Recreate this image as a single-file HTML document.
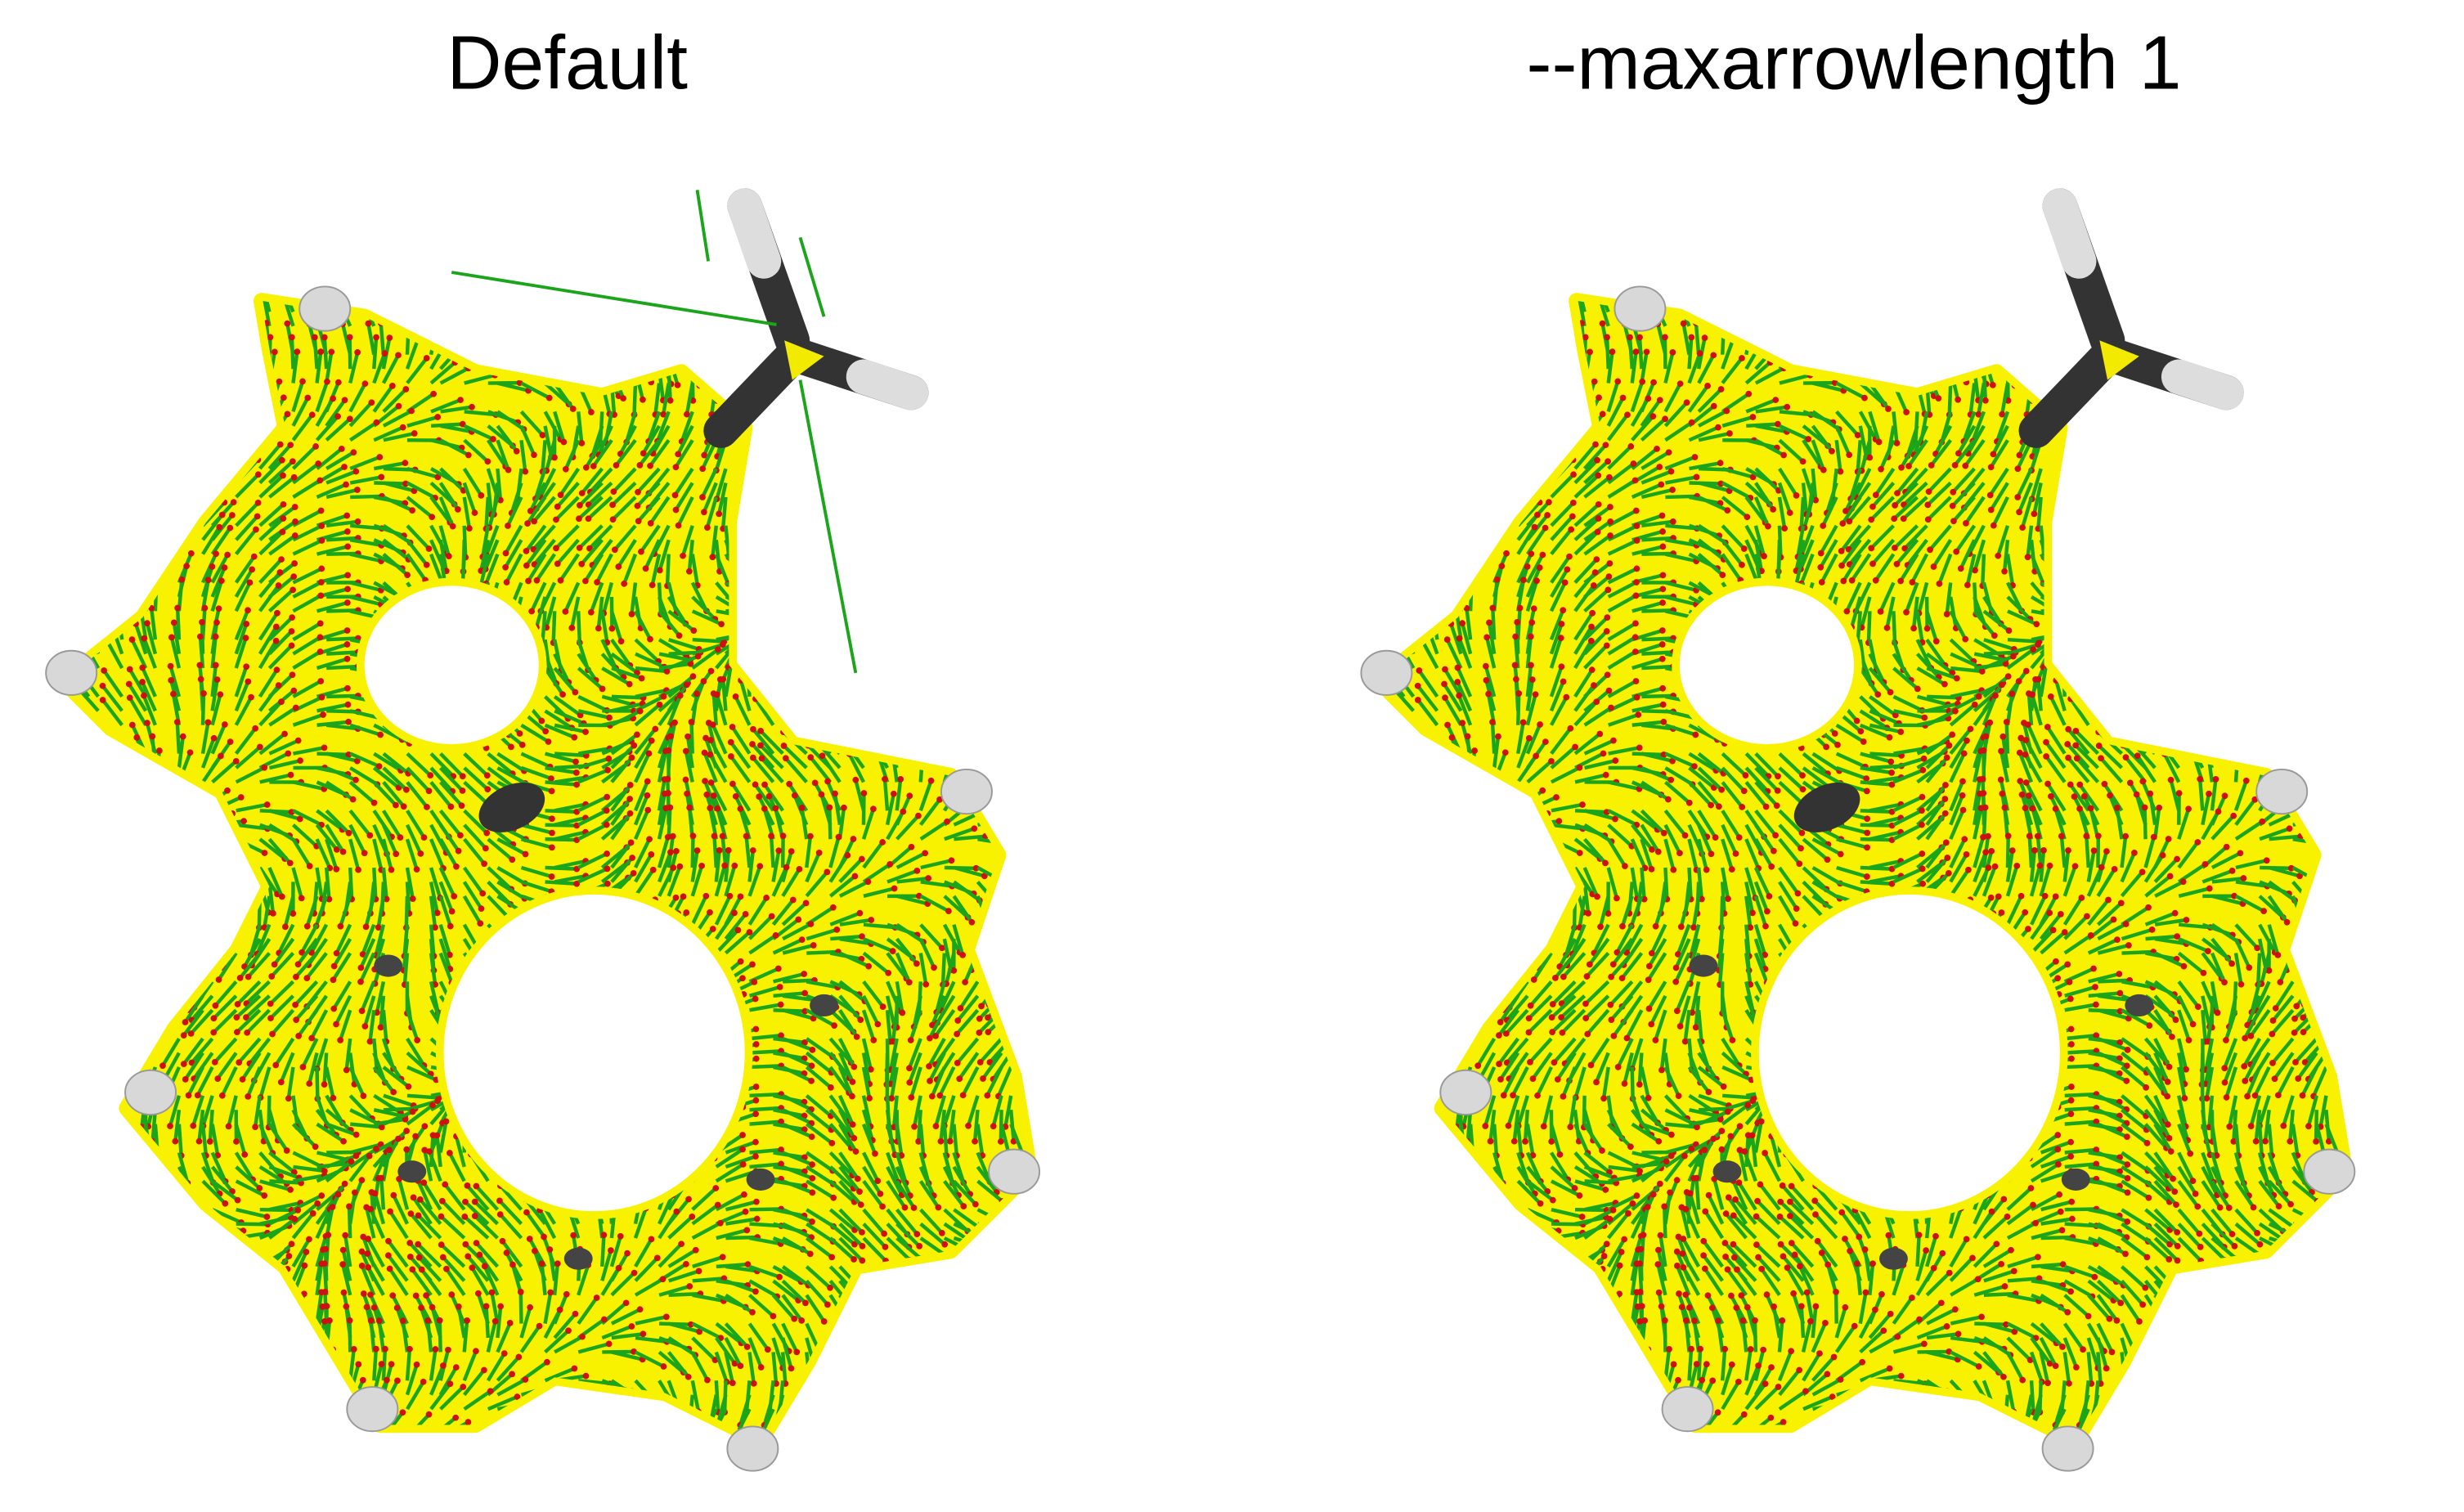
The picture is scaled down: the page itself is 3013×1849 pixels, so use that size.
<!DOCTYPE html>
<html><head><meta charset="utf-8"><style>
html,body{margin:0;padding:0;background:#fff}
svg{display:block}
</style></head><body>
<svg id="s" width="3013" height="1849" viewBox="0 0 1555 955" preserveAspectRatio="none" xmlns="http://www.w3.org/2000/svg">
<defs>
<path id="blob" fill-rule="evenodd" d="M165,190 L230,200 L300,235 L380,250 L430,235 L470,270 L460,330 L460,420 L500,470 L600,490 L630,540 L610,600 L640,680 L650,740 L600,790 L540,800 L510,860 L480,910 L420,880 L350,870 L300,900 L240,900 L210,850 L180,800 L130,760 L80,700 L110,650 L150,600 L170,560 L140,500 L70,460 L40,430 L90,390 L130,330 L180,270 L170,220 Z M225,420 A60,55 0 1,0 345,420 A60,55 0 1,0 225,420 Z M275,665 A100,105 0 1,0 475,665 A100,105 0 1,0 275,665 Z"/>
<clipPath id="clipL"><use href="#blob"/></clipPath>
</defs>
<text x="358" y="56" font-family="Liberation Sans, sans-serif" font-size="48" text-anchor="middle">Default</text>
<text x="1170" y="56" font-family="Liberation Sans, sans-serif" font-size="48" text-anchor="middle">--maxarrowlength 1</text>
<g id="molL"></g>
<g id="molR" transform="translate(830,0)"></g>
</svg>
<script>
const NS='http://www.w3.org/2000/svg';
function mk(t,a,p){const e=document.createElementNS(NS,t);for(const k in a)e.setAttribute(k,a[k]);p.appendChild(e);return e;}
function build(g,long){
  mk('use',{href:'#blob',fill:'#f8f200',stroke:'#f8f200','stroke-width':10,'stroke-linejoin':'round'},g);
  const ar=mk('g',{'clip-path':'url(#clipL)'},g);
  
  
  for(let y=185;y<930;y+=12){for(let x=30;x<670;x+=12){
    const ang=Math.sin(x*0.013+y*0.009)*1.6+Math.cos(y*0.02)*0.8;
    const L=20, dx=Math.cos(ang)*L, dy=Math.sin(ang)*L;
    const ox=((x*7+y*3)%9)-4, oy=((x*3+y*5)%9)-4;
    const x0=x+ox,y0=y+oy;
    mk('line',{x1:x0,y1:y0,x2:x0+dx,y2:y0+dy,stroke:'#1aa51a','stroke-width':2.3},ar);
    mk('circle',{cx:x0+dx,cy:y0+dy,r:2,fill:'#d01010'},ar);
  }}
  mk('line',{x1:470,y1:130,x2:500,y2:215,stroke:'#333','stroke-width':22,'stroke-linecap':'round'},g);
  mk('line',{x1:470,y1:130,x2:482,y2:165,stroke:'#ddd','stroke-width':22,'stroke-linecap':'round'},g);
  mk('line',{x1:505,y1:225,x2:575,y2:248,stroke:'#333','stroke-width':22,'stroke-linecap':'round'},g);
  mk('line',{x1:545,y1:238,x2:575,y2:248,stroke:'#ddd','stroke-width':22,'stroke-linecap':'round'},g);
  mk('line',{x1:500,y1:225,x2:455,y2:272,stroke:'#333','stroke-width':22,'stroke-linecap':'round'},g);
  mk('polygon',{points:'495,215 520,225 500,240',fill:'#f2ea00'},g);
  const atoms=[[205,195],[45,425],[95,690],[235,890],[475,915],[640,740],[610,500]];
  atoms.forEach(a=>{const c=mk('ellipse',{cx:a[0],cy:a[1],rx:16,ry:14,fill:'#d8d8d8',stroke:'#999','stroke-width':1},g);
    });
  mk('ellipse',{cx:323,cy:510,rx:22,ry:14,fill:'#333',transform:'rotate(-25 323 510)'},g);
  [[260,740],[365,795],[480,745],[245,610],[520,635]].forEach(a=>mk('ellipse',{cx:a[0],cy:a[1],rx:9,ry:7,fill:'#444'},g));
  if(long){
    [[285,172,490,205],[505,240,540,425],[440,120,447,165],[505,150,520,200]].forEach(l=>mk('line',{x1:l[0],y1:l[1],x2:l[2],y2:l[3],stroke:'#1aa51a','stroke-width':2},g));
  }
}
build(document.getElementById('molL'),true);
build(document.getElementById('molR'),false);
</script>
</body></html>
